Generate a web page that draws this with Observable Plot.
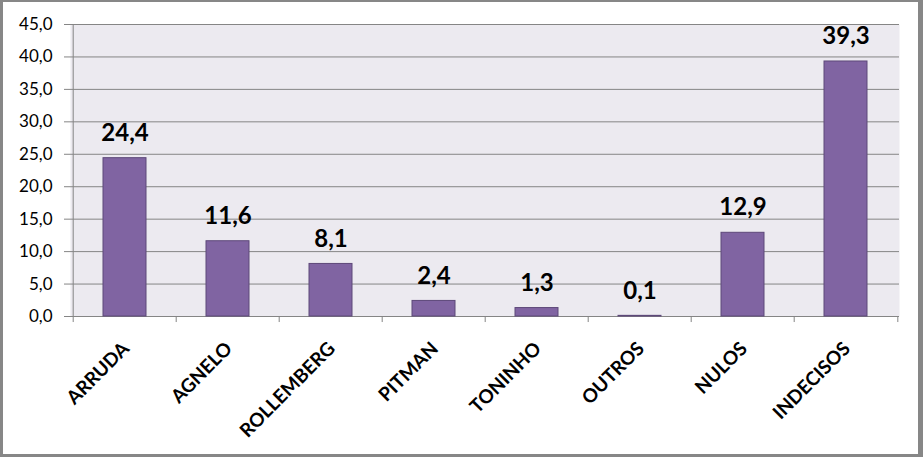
<!DOCTYPE html>
<html>
<head>
<meta charset="utf-8">
<script src="https://cdn.jsdelivr.net/npm/d3@7"></script>
<script src="https://cdn.jsdelivr.net/npm/@observablehq/plot@0.6"></script>
<style>
  html, body { margin: 0; padding: 0; background: #fff; }
  #wrap {
    width: 923px; height: 457px; box-sizing: border-box;
    border-style: solid; border-color: #878787;
    border-width: 2px 5px 3px 3px;
    background: #fff; overflow: hidden;
  }
  #wrap svg { display: block; }
</style>
</head>
<body>
<div id="wrap"></div>
<script>
const categories = ["ARRUDA", "AGNELO", "ROLLEMBERG", "PITMAN", "TONINHO", "OUTROS", "NULOS", "INDECISOS"];
const values = [24.4, 11.6, 8.1, 2.4, 1.3, 0.1, 12.9, 39.3];
const yTicks = [0, 5, 10, 15, 20, 25, 30, 35, 40, 45];

const data = categories.map((c, i) => ({cat: c, value: values[i]}));
const fmt = d => d.toFixed(1).replace(".", ",");

const W = 915, H = 452;
const mL = 67, mR = 19, mT = 22, mB = 138;
const step = (W - mL - mR) / categories.length;
const grid = "#858585";

const chart = Plot.plot({
  width: W, height: H,
  marginLeft: mL, marginRight: mR, marginTop: mT, marginBottom: mB,
  style: {fontFamily: "Lato, sans-serif", color: "#000", background: "transparent"},
  x: {domain: categories, paddingInner: 0.585, paddingOuter: 0.2925, axis: null},
  y: {domain: [0, 45], axis: null},
  marks: [
    Plot.frame({fill: "#ECEAF0", stroke: null}),
    Plot.ruleY(yTicks, {stroke: grid, strokeWidth: 1}),
    // left axis line
    Plot.ruleX([categories[0]], {y1: 0, y2: 45, dx: -step / 2, stroke: grid}),
    // category boundary ticks
    Plot.ruleX(categories, {y1: 0, y2: -0.93, dx: -step / 2, stroke: grid}),
    Plot.ruleX([categories[categories.length - 1]], {y1: 0, y2: -0.93, dx: step / 2, stroke: grid}),
    Plot.axisY({
      ticks: yTicks, tickFormat: fmt, tickSize: 6, tickPadding: 12, label: null,
      stroke: grid, fill: "#000", fontSize: 17, anchor: "left"
    }),
    Plot.barY(data, {x: "cat", y: "value", fill: "#8064A2", stroke: "#5D4879", strokeWidth: 1}),
    Plot.text(data, {
      x: "cat", y: "value", text: d => fmt(d.value), dy: -25,
      fontSize: 24, fontWeight: "bold", fill: "#000"
    }),
    Plot.text(categories, {
      x: d => d, y: 0, text: d => d, dy: 29, dx: 1, rotate: -45,
      textAnchor: "end", fontSize: 19, fontWeight: "bold", fill: "#000"
    })
  ]
});
document.getElementById("wrap").appendChild(chart);
</script>
</body>
</html>
